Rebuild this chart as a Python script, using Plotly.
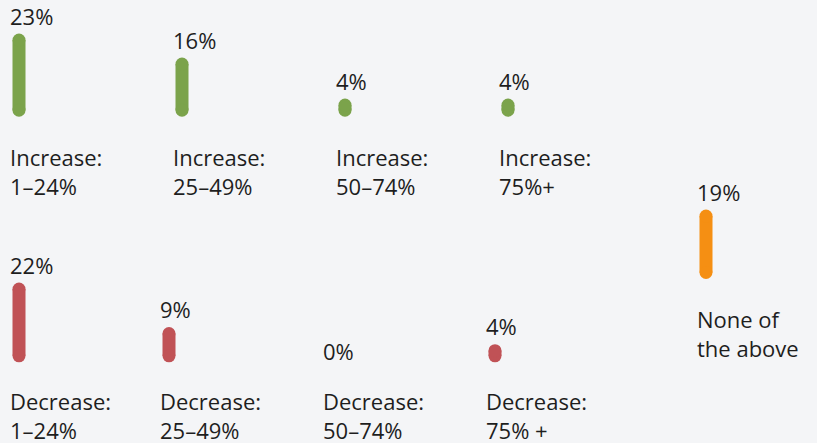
import plotly.graph_objects as go

# Share of respondents per expected change bracket
increase_labels = ["Increase:<br>1–24%", "Increase:<br>25–49%", "Increase:<br>50–74%", "Increase:<br>75%+"]
increase_values = [23, 16, 4, 4]

decrease_labels = ["Decrease:<br>1–24%", "Decrease:<br>25–49%", "Decrease:<br>50–74%", "Decrease:<br>75% +"]
decrease_values = [22, 9, 0, 4]

none_labels = ["None of<br>the above"]
none_values = [19]

# ---- layout / style constants ----
W, H = 817, 443
BG = "#f4f5f7"
TEXT = "#1e1e1e"
FONT = "Open Sans"
FS = 22
PX_PER_PCT = 3.42      # vertical scale, pixels per percentage point
CAP = 1.3              # rounded foot of each pill, in percentage units
BAR_W = 13             # pill width in px (x axis is in px)
R = BAR_W / 2 / PX_PER_PCT   # pill end radius in percentage units
BAR_OFFSET = 9         # pill centre relative to its column's edge
TEXT_DX = -2           # text box padding compensation
LABEL_GAP = 18         # px between pill top and its value label

rows = [
    dict(values=increase_values, labels=increase_labels, color="#7ba34b",
         lefts=[10, 173, 336, 499], baseline=116.7, band=(8, 125), text_mid=171),
    dict(values=decrease_values, labels=decrease_labels, color="#c05256",
         lefts=[10, 160, 323, 486], baseline=362.3, band=(250, 372), text_mid=415),
    dict(values=none_values, labels=none_labels, color="#f58f13",
         lefts=[697], baseline=279.0, band=(175, 290), text_mid=333),
]

fig = go.Figure()
annotations = []
layout_axes = {}

for i, row in enumerate(rows):
    ax_name = "yaxis" if i == 0 else f"yaxis{i + 1}"
    ref = "y" if i == 0 else f"y{i + 1}"
    top_px, bot_px = row["band"]
    b = row["baseline"]
    layout_axes[ax_name] = dict(
        domain=[1 - bot_px / H, 1 - top_px / H],
        range=[(b - bot_px) / PX_PER_PCT - CAP, (b - top_px) / PX_PER_PCT - CAP],
        visible=False, fixedrange=True, anchor="x",
    )

    # pill = straight body + round cap at each end
    xs, body_base, body_len, cap_x, cap_y = [], [], [], [], []
    for left, v in zip(row["lefts"], row["values"]):
        if v > 0:
            lo, hi = -CAP + R, v - R
            xs.append(left + BAR_OFFSET)
            body_base.append(lo)
            body_len.append(hi - lo)
            cap_x += [left + BAR_OFFSET] * 2
            cap_y += [lo, hi]
        annotations.append(dict(
            x=left + TEXT_DX, xref="x", y=v, yref=ref, xanchor="left", yanchor="middle",
            yshift=LABEL_GAP if v > 0 else 7, text=f"{v}%", showarrow=False,
            font=dict(family=FONT, size=FS, color=TEXT),
        ))

    fig.add_trace(go.Bar(
        x=xs, y=body_len, base=body_base, width=BAR_W, yaxis=ref, xaxis="x",
        marker=dict(color=row["color"], line=dict(width=0)),
        hoverinfo="skip", showlegend=False,
    ))
    fig.add_trace(go.Scatter(
        x=cap_x, y=cap_y, mode="markers", yaxis=ref, xaxis="x",
        marker=dict(color=row["color"], size=BAR_W, line=dict(width=0)),
        hoverinfo="skip", showlegend=False, cliponaxis=False,
    ))

    for left, lab in zip(row["lefts"], row["labels"]):
        annotations.append(dict(
            x=left + TEXT_DX, xref="x", y=1 - row["text_mid"] / H, yref="paper",
            xanchor="left", yanchor="middle", align="left", text=lab,
            showarrow=False, font=dict(family=FONT, size=FS, color=TEXT),
        ))

fig.update_layout(
    width=W, height=H, margin=dict(l=0, r=0, t=0, b=0),
    paper_bgcolor=BG, plot_bgcolor="rgba(0,0,0,0)", barmode="overlay",
    xaxis=dict(range=[0, W], domain=[0, 1], visible=False, fixedrange=True),
    annotations=annotations, showlegend=False,
    **layout_axes,
)

fig.write_html("out.html", config=dict(displayModeBar=False))
